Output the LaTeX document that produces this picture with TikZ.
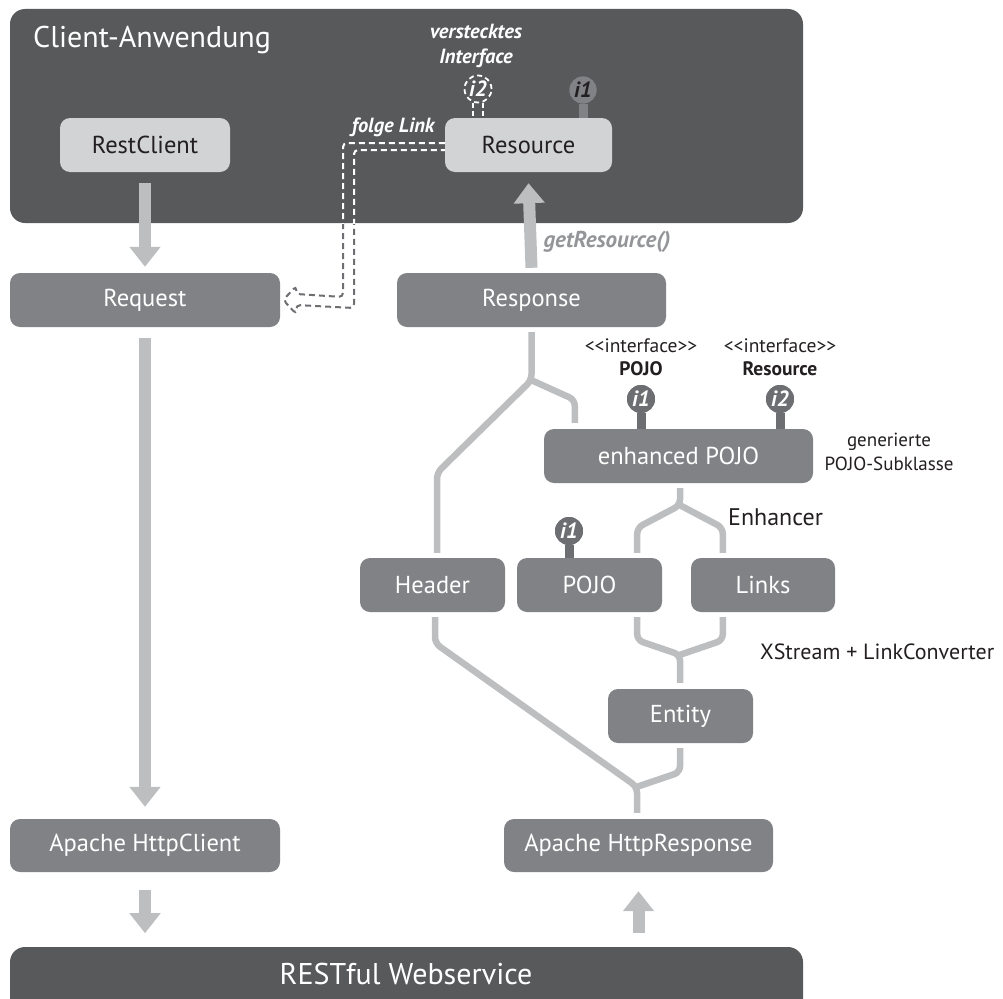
\documentclass[tikz,border=0pt]{standalone}
\usepackage{fontspec}
\setmainfont{PT Sans}
\usetikzlibrary{arrows.meta,calc}
\definecolor{dark}{HTML}{58595B}
\definecolor{mid}{HTML}{808285}
\definecolor{lightg}{HTML}{D1D3D4}
\definecolor{conn}{HTML}{BCBEC0}
\definecolor{lolli}{HTML}{6D6E71}
\definecolor{getres}{HTML}{939598}
\definecolor{txt}{HTML}{231F20}
\begin{document}
\begin{tikzpicture}[x=1pt,y=-1pt,
  box/.style={rounded corners=10pt, minimum height=54pt, inner sep=0pt, font=\fontsize{24.5}{28}\selectfont},
  midbox/.style={box, fill=mid, text=white},
  lightbox/.style={box, fill=lightg, text=txt},
  bigarrow/.style={draw=conn, line width=12pt, -{Triangle[width=30pt,length=20pt]}},
  tree/.style={draw=conn, line width=6.5pt, rounded corners=6pt},
  lollipop/.style={circle, fill=lolli, minimum size=28pt, inner sep=0pt, text=white, font=\bfseries\itshape\fontsize{22}{22}\selectfont},
  stem/.style={draw=lolli, line width=9pt},
  linkpath/.style={line width=2pt, dash pattern=on 6pt off 4pt, rounded corners=4pt},
  smalltxt/.style={text=txt, align=center, font=\fontsize{19.5}{23}\selectfont},
  bigtxt/.style={text=txt, font=\fontsize{24}{28}\selectfont},
  emph/.style={font=\bfseries\itshape\fontsize{20.5}{25}\selectfont}
]
\useasboundingbox (0,0) rectangle (1003,998);

% client application frame
\node[fill=dark, rounded corners=15pt, minimum width=793pt, minimum height=214pt, inner sep=0pt] (client) at (406.5,116) {};
\node[anchor=west, text=white, font=\fontsize{30}{32}\selectfont, inner sep=0pt] (clienttitle) at (33,40) {Client-Anwendung};

% boxes
\node[lightbox, minimum width=170pt] (restclient) at (145,145) {RestClient};
\node[lightbox, minimum width=167pt] (resource) at (528.5,145) {Resource};
\node[midbox, minimum width=270pt] (request) at (145,300) {Request};
\node[midbox, minimum width=269pt] (response) at (531.5,300) {Response};
\node[midbox, minimum width=269pt] (enhanced) at (678.5,456) {enhanced POJO};
\node[midbox, minimum width=145pt] (header) at (432.5,585) {Header};
\node[midbox, minimum width=145pt] (pojo) at (589.5,585) {POJO};
\node[midbox, minimum width=144pt] (links) at (763,585) {Links};
\node[midbox, minimum width=145pt] (entity) at (680.5,716) {Entity};
\node[midbox, minimum width=270pt, minimum height=53pt] (httpclient) at (145,845.5) {Apache HttpClient};
\node[midbox, minimum width=269pt, minimum height=53pt] (httpresponse) at (638.5,845.5) {Apache HttpResponse};

% RESTful webservice bar
\fill[dark, rounded corners=15pt] (10,947) rectangle (803,1030);
\node[text=white, font=\fontsize{30}{32}\selectfont] (rest) at (406,974) {RESTful Webservice};

% big arrows
\draw[bigarrow] ([yshift=-11pt]restclient.south) -- ([yshift=6pt]request.north);
\draw[bigarrow] ([yshift=5pt]response.north) -- ([yshift=-11pt]resource.south);
\draw[bigarrow] ([yshift=-11pt]request.south) -- ([yshift=12pt]httpclient.north);
\draw[bigarrow] ([yshift=-18pt]httpclient.south) -- ([yshift=-61pt]httpclient.south);
\draw[bigarrow] ([yshift=-61pt]httpresponse.south) -- ([yshift=-19pt]httpresponse.south);
\node[anchor=west, text=getres, font=\bfseries\itshape\fontsize{23}{26}\selectfont] (getres) at (540,242) {getResource()};

% trees
\coordinate (rsplit) at ($(response.south)+(0,53)$);
\draw[tree] ([yshift=-5pt]response.south) -- (rsplit) -- ($(header.north)+(4.5,-85)$) -- ([xshift=4.5pt,yshift=5pt]header.north);
\draw[tree] (rsplit) -- ($(enhanced.north west)+(31,-29)$) -- ([xshift=31pt,yshift=6pt]enhanced.north west);

\coordinate (esplit) at ($(enhanced.south)+(1.5,22)$);
\draw[tree] ([xshift=1.5pt,yshift=-5pt]enhanced.south) -- (esplit) -- ($(pojo.north east)+(-25,-30)$) -- ([xshift=-25pt,yshift=5pt]pojo.north east);
\draw[tree] (esplit) -- ($(links.north west)+(32,-30)$) -- ([xshift=32pt,yshift=5pt]links.north west);
\node[bigtxt, anchor=west, inner sep=0pt] (enhancer) at (728,517) {Enhancer};

\coordinate (xsplit) at ($(entity.north)+(-0.5,-34)$);
\draw[tree] ([xshift=-25pt,yshift=-5pt]pojo.south east) -- ($(pojo.south east)+(-25,28)$) -- (xsplit) -- ([xshift=-0.5pt,yshift=6pt]entity.north);
\draw[tree] ([xshift=32pt,yshift=-5pt]links.south west) -- ($(links.south west)+(32,28)$) -- (xsplit);
\node[text=txt, font=\fontsize{22}{26}\selectfont, anchor=west, inner sep=0pt] (xstream) at (760,652) {XStream + LinkConverter};

\coordinate (hsplit) at ($(httpresponse.north)+(-1.5,-32)$);
\draw[tree] ([xshift=2.5pt,yshift=-5pt]header.south) -- ($(header.south)+(2.5,31)$) -- (hsplit) -- ([xshift=-1.5pt,yshift=6pt]httpresponse.north);
\draw[tree] ([xshift=-0.5pt,yshift=-5pt]entity.south) -- ($(entity.south)+(-0.5,29)$) -- (hsplit);

% interfaces on enhanced POJO and POJO
\node[lollipop] (e1) at (641,399) {i1};
\node[lollipop] (e2) at (780,399) {i2};
\node[lollipop] (p1) at (569,531) {i1};
\draw[stem] (e1) -- (e1 |- enhanced.north);
\draw[stem] (e2) -- (e2 |- enhanced.north);
\draw[stem] (p1) -- (p1 |- pojo.north);
\node[lollipop] at (e1) {i1};
\node[lollipop] at (e2) {i2};
\node[lollipop] at (p1) {i1};
\node[smalltxt] (if1) at (641,357.5) {{<}{<}interface{>}{>}\\\textbf{POJO}};
\node[smalltxt] (if2) at (780,357.5) {{<}{<}interface{>}{>}\\\textbf{Resource}};
\node[smalltxt, font=\fontsize{19}{24}\selectfont] (gen) at (889,452) {generierte\\POJO-Subklasse};

% interfaces on Resource
\node[lollipop, fill=mid, text=txt, minimum size=27pt] (r1) at (583,90) {i1};
\draw[draw=mid, line width=9pt] (r1) -- (r1 |- resource.north);
\node[lollipop, fill=mid, text=txt, minimum size=27pt] at (r1) {i1};
\node[circle, draw=white, line width=1.8pt, dash pattern=on 5pt off 3.5pt, minimum size=27pt, inner sep=0pt, text=white, font=\bfseries\itshape\fontsize{22}{22}\selectfont] (h2) at (478,89) {i2};
\draw[white, line width=1.8pt, dash pattern=on 5pt off 3pt] ([xshift=-5pt]h2.south) -- ([xshift=-5pt]h2.south |- resource.north);
\draw[white, line width=1.8pt, dash pattern=on 5pt off 3pt] ([xshift=5pt]h2.south) -- ([xshift=5pt]h2.south |- resource.north);
\node[text=white, emph, align=center] (versteckt) at (476,46) {verstecktes\\Interface};

% follow link
\coordinate (tip) at ([xshift=3pt]request.east);
\def\linkroute{(resource.west |- 0,143) -- (343,143) -- (343,297) -- ($(tip)+(13,-6)$) -- ($(tip)+(13,-14)$) -- (tip) -- ($(tip)+(13,14)$) -- ($(tip)+(13,5)$) -- (354,308) -- (354,150) -- (resource.west |- 0,150)}
\draw[linkpath, draw=lolli] \linkroute;
\begin{scope}
\clip (10,9) rectangle (803,223);
\draw[linkpath, draw=white] \linkroute;
\end{scope}
\node[anchor=east, text=white, emph] (folge) at (438,127) {folge Link};
\end{tikzpicture}
\end{document}
